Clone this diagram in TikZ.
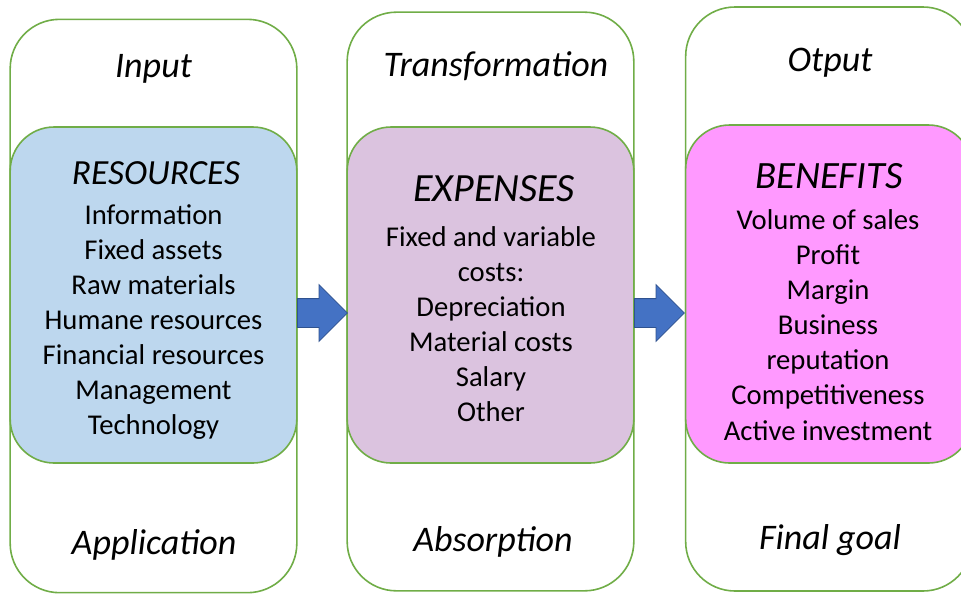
\documentclass[tikz,border=0pt]{standalone}
\usepackage{fontspec}
\setmainfont{Carlito}
\usetikzlibrary{shapes,arrows}
\definecolor{boxgreen}{HTML}{70AD47}
\definecolor{resblue}{HTML}{BDD7EE}
\definecolor{explilac}{HTML}{DBC3DF}
\definecolor{benpink}{HTML}{FF99FF}
\definecolor{arrblue}{HTML}{4472C4}
\definecolor{arrborder}{HTML}{2F528F}
\begin{document}
\begin{tikzpicture}[x=0.75pt,y=-0.75pt,
  outerbox/.style={draw=boxgreen,line width=1.2pt,fill=white,rounded corners=37pt,
    inner sep=0pt,minimum width=215pt},
  innerbox/.style={draw=boxgreen,line width=1.2pt,rounded corners=33pt,
    inner sep=0pt,minimum width=215pt,minimum height=252pt},
  headtext/.style={font=\fontsize{27}{31}\selectfont\itshape},
  titletext/.style={font=\fontsize{26.5}{30}\selectfont\itshape},
  listtext/.style={font=\fontsize{21.5}{26.3}\selectfont,align=center},
  blockarrow/.style={single arrow,draw=arrborder,fill=arrblue,line width=0.6pt,
    inner xsep=0pt,inner ysep=10.5pt,minimum width=0pt,minimum height=37.5pt,
    single arrow head extend=10.5pt,anchor=tail}]
\clip (0,0) rectangle (961,594);
% columns
\node[outerbox,minimum height=430pt] (incol) at (153.5,306) {};
\node[outerbox,minimum height=434pt] (trcol) at (490.5,301.5) {};
\node[outerbox,minimum height=438pt] (outcol) at (829,299) {};
\node[innerbox,fill=resblue] (res) at (153.5,295) {};
\node[innerbox,fill=explilac] (exp) at (490.5,295) {};
\node[innerbox,fill=benpink,minimum height=253.5pt] (ben) at (829,294) {};
% headers
\node[headtext] (input) at (153.5,69) {Input};
\node[headtext] (transf) at (496,66) {Transformation};
\node[headtext] (otput) at (830,63) {Otput};
% footers
\node[headtext] (appl) at (154,545) {Application};
\node[headtext] (absorp) at (493,542) {Absorption};
\node[headtext] (goal) at (830,540) {Final goal};
% titles
\node[titletext] (restitle) at (156,173) {RESOURCES};
\node[titletext,font=\fontsize{30}{34}\selectfont\itshape] (exptitle) at (494,189) {EXPENSES};
\node[titletext,font=\fontsize{29}{33}\selectfont\itshape] (bentitle) at (829,176) {BENEFITS};
% lists
\node[listtext] (reslist) at (153.5,322) {Information\\Fixed assets\\Raw materials\\Humane resources\\Financial resources\\Management\\Technology};
\node[listtext] (explist) at (491,324) {Fixed and variable\\costs:\\Depreciation\\Material costs\\Salary\\Other};
\node[listtext] (benlist) at (828,325) {Volume of sales\\Profit\\Margin\\Business\\reputation\\Competitiveness\\Active investment};
% arrows
\node[blockarrow] (arrone) at (297,313) {};
\node[blockarrow] (arrtwo) at (634,313) {};
\end{tikzpicture}
\end{document}
